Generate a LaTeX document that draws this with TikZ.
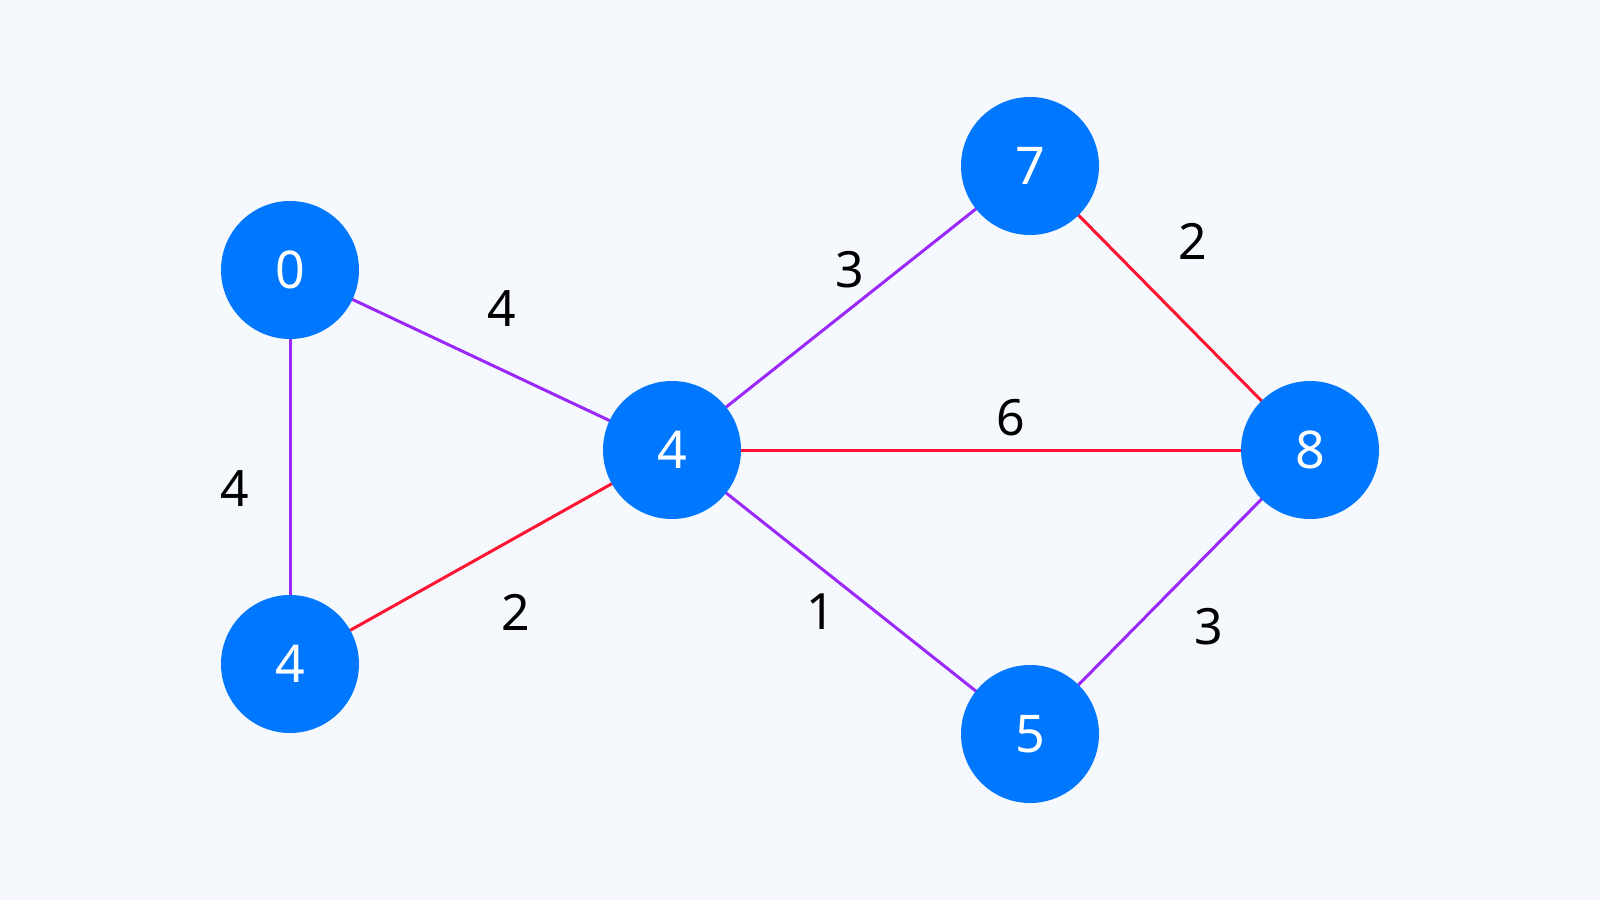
\documentclass[tikz,border=0pt]{standalone}
\usepackage{fontspec}
\setmainfont{Noto Sans}
\definecolor{bg}{RGB}{245,249,254}
\definecolor{nodeblue}{RGB}{0,119,255}
\definecolor{epurple}{RGB}{155,40,250}
\definecolor{ered}{RGB}{255,20,50}
\begin{document}
\begin{tikzpicture}[x=1pt,y=-1pt,
  vert/.style={circle,fill=nodeblue,minimum size=138pt,inner sep=0pt,text=white,font=\fontsize{52}{60}\selectfont},
  pe/.style={draw=epurple,line width=3pt},
  re/.style={draw=ered,line width=3pt},
  lab/.style={font=\fontsize{50}{60}\selectfont,text=black}]
\fill[bg] (0,0) rectangle (1600,900);
\useasboundingbox (0,0) rectangle (1600,900);
\path (290,270) coordinate (pa) (290,664) coordinate (pb) (672,450) coordinate (pc)
      (1030,166) coordinate (pd) (1310,450) coordinate (pe) (1030,734) coordinate (pf);
\path[pe] (pa) -- (pb);
\path[pe] (pa) -- (pc);
\path[pe] (pc) -- (pd);
\path[pe] (pc) -- (pf);
\path[pe] (pf) -- (pe);
\path[re] (pd) -- (pe);
\path[re] (pc) -- (pe);
\path[re] (pb) -- (pc);
\node[vert] (a) at (pa) {0};
\node[vert] (b) at (pb) {4};
\node[vert] (c) at (pc) {4};
\node[vert] (d) at (pd) {7};
\node[vert] (e) at (pe) {8};
\node[vert] (f) at (pf) {5};
\node[lab] (l1) at (502,309) {4};
\node[lab] (l2) at (235,489) {4};
\node[lab] (l3) at (850,270) {3};
\node[lab] (l4) at (1193,241) {2};
\node[lab] (l5) at (1011,418) {6};
\node[lab] (l6) at (516,612) {2};
\node[lab] (l7) at (821,612) {1};
\node[lab] (l8) at (1209,627) {3};
\end{tikzpicture}
\end{document}
